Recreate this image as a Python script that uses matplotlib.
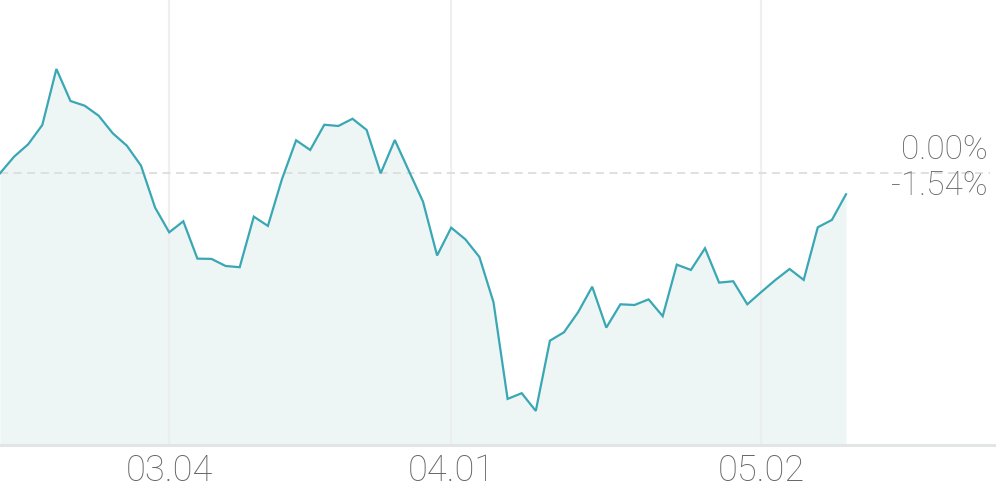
import matplotlib
matplotlib.use("Agg")
import matplotlib.pyplot as plt
import numpy as np

# 수익률 (%) - 일별
returns = [0.00, 1.22, 2.13, 3.54, 7.65, 5.30, 4.96, 4.22, 2.93, 2.02,
           0.56, -2.52, -4.33, -3.52, -6.26, -6.28, -6.80, -6.89, -3.18, -3.86,
           -0.42, 2.42, 1.71, 3.56, 3.47, 4.00, 3.18, 0.00, 2.44, 0.17,
           -2.08, -6.03, -3.99, -4.84, -6.14, -9.46, -16.55, -16.13, -17.43, -12.28,
           -11.66, -10.19, -8.32, -11.32, -9.61, -9.66, -9.25, -10.48, -6.70, -7.09,
           -5.50, -8.02, -7.92, -9.61, -8.70, -7.82, -7.02, -7.82, -3.96, -3.42,
           -1.54]
tick_idx = [12, 32, 54]
tick_labels = ["03.04", "04.01", "05.02"]
base_label = "0.00%"
last_label = f"{returns[-1]:.2f}%"

line_color = "#3aa7b4"
fill_color = "#edf6f5"
text_color = "#666666"

fig = plt.figure(figsize=(9.96, 4.90), dpi=100)
ax = fig.add_axes([0, 45 / 490, 1, 445 / 490])

x = np.arange(len(returns))
ax.set_xlim(0, 996 / 14.1)
ax.set_ylim(-19.93, 12.71)

ax.fill_between(x, returns, -19.93, color=fill_color, lw=0, zorder=1)
ax.plot(x, returns, color=line_color, lw=1.6, zorder=3, solid_joinstyle="miter")

# 세로 그리드
for t in tick_idx:
    ax.axvline(t, color="#ececec", lw=1.6, alpha=0.8, zorder=2)

# 기준선 (0%)
ax.plot([0, 990 / 14.1], [0, 0], color="#dddddd", lw=1.3, ls=(0, (4.5, 3)), zorder=2)

for s in ["top", "left", "right"]:
    ax.spines[s].set_visible(False)
ax.spines["bottom"].set_color("#e2e5e5")
ax.spines["bottom"].set_linewidth(2.2)
ax.set_yticks([])
ax.set_xticks(tick_idx)
ax.set_xticklabels(tick_labels, fontfamily="Roboto", fontweight="light",
                   fontsize=26, color=text_color)
ax.tick_params(axis="x", length=0, pad=6)

ax.annotate(base_label, xy=(0.992, 0), xycoords=("axes fraction", "data"),
            xytext=(0, 14), textcoords="offset pixels", ha="right", va="baseline",
            fontfamily="Roboto", fontweight="light", fontsize=24, color=text_color)
ax.annotate(last_label, xy=(0.992, returns[-1]), xycoords=("axes fraction", "data"),
            xytext=(0, -1), textcoords="offset pixels", ha="right", va="baseline",
            fontfamily="Roboto", fontweight="light", fontsize=24, color=text_color)

fig.savefig("out.png", dpi=100, facecolor="white")
